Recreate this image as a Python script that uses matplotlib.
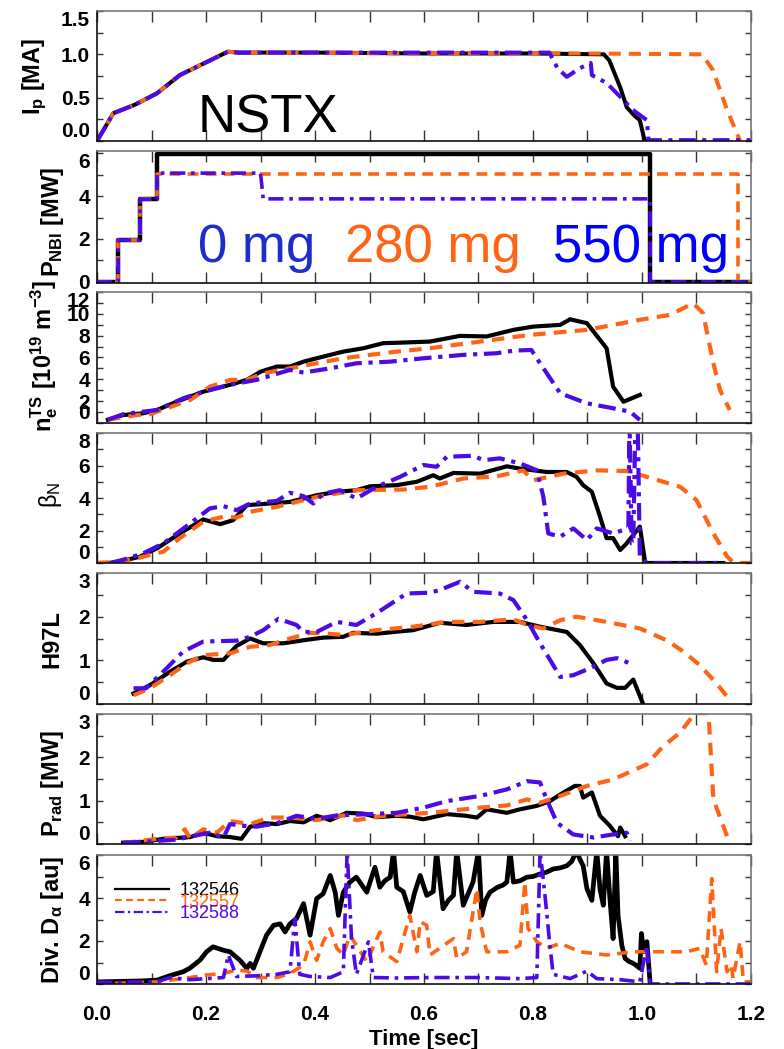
import matplotlib
matplotlib.use("Agg")
import matplotlib.pyplot as plt
from matplotlib.ticker import MultipleLocator

plt.rcParams['font.family'] = ['Liberation Sans', 'DejaVu Sans']
plt.rcParams['mathtext.fontset'] = 'custom'
plt.rcParams['mathtext.rm'] = 'Liberation Sans:bold'
plt.rcParams['mathtext.it'] = 'Liberation Sans:bold'
plt.rcParams['mathtext.bf'] = 'Liberation Sans:bold'
plt.rcParams['mathtext.sf'] = 'Liberation Sans'

# ---------------- data ----------------
shots = ['132546', '132557', '132588']
x_ticks = [0, 0.2, 0.4, 0.6, 0.8, 1.0, 1.2]
x_ticklabels = ['0.0', '0.2', '0.4', '0.6', '0.8', '1.0', '1.2']

# Plasma current [MA]
ip_t_k = [0, 0.03, 0.07, 0.11, 0.152, 0.24, 0.26, 0.4, 0.6, 0.8, 0.93, 0.94, 0.96, 0.972, 0.985, 0.996, 1.005, 1.01]
ip_v_k = [0, 0.32, 0.42, 0.55, 0.76, 1.03, 1.02, 1.02, 1.01, 1.01, 1.0, 0.93, 0.62, 0.39, 0.30, 0.24, 0.0, 0.0]
ip_t_o = [0, 0.03, 0.07, 0.11, 0.152, 0.24, 0.26, 0.6, 0.9, 1.11, 1.13, 1.156, 1.18]
ip_v_o = [0, 0.32, 0.42, 0.55, 0.76, 1.03, 1.02, 1.01, 1.01, 1.0, 0.82, 0.36, 0.0]
ip_t_p = [0, 0.03, 0.07, 0.11, 0.152, 0.24, 0.26, 0.5, 0.7, 0.83, 0.845, 0.862, 0.886, 0.906, 0.908, 0.935, 0.96, 0.983, 1.009, 1.012, 1.2]
ip_v_p = [0, 0.32, 0.42, 0.55, 0.76, 1.03, 1.02, 1.02, 1.02, 1.02, 0.84, 0.74, 0.84, 0.90, 0.76, 0.67, 0.51, 0.36, 0.24, 0.01, 0.01]

# NBI power [MW]
nbi_t_k = [0, 0.039, 0.039, 0.079, 0.079, 0.11, 0.11, 1.015, 1.015, 1.2]
nbi_v_k = [0, 0, 1.95, 1.95, 3.85, 3.85, 5.97, 5.97, 0, 0]
nbi_t_o = [0, 0.039, 0.039, 0.079, 0.079, 0.11, 0.11, 1.176, 1.176, 1.2]
nbi_v_o = [0, 0, 1.95, 1.95, 3.85, 3.85, 5.05, 5.05, 0, 0]
nbi_t_p = [0, 0.039, 0.039, 0.079, 0.079, 0.11, 0.11, 0.30, 0.305, 1.015, 1.015, 1.2]
nbi_v_p = [0, 0, 1.95, 1.95, 3.85, 3.85, 5.07, 5.07, 3.87, 3.87, 0, 0]

# Thomson electron density [1e19 m^-3]
ne_t_k = [0.02, 0.048, 0.085, 0.11, 0.146, 0.195, 0.244, 0.275, 0.30, 0.33, 0.354, 0.379, 0.415, 0.452, 0.489, 0.525,
          0.562, 0.611, 0.666, 0.715, 0.764, 0.80, 0.85, 0.868, 0.899, 0.935, 0.947, 0.966, 0.996]
ne_v_k = [0.3, 0.73, 0.89, 1.19, 1.95, 2.87, 3.5, 3.95, 4.7, 5.17, 5.17, 5.62, 6.08, 6.54, 6.85, 7.31,
          7.37, 7.46, 7.98, 7.93, 8.53, 8.83, 8.99, 9.5, 9.14, 6.85, 3.33, 1.95, 2.57]
ne_t_o = [0.02, 0.073, 0.097, 0.128, 0.171, 0.207, 0.244, 0.275, 0.305, 0.354, 0.403, 0.452, 0.501, 0.55, 0.611,
          0.703, 0.794, 0.899, 0.996, 1.051, 1.094, 1.112, 1.131, 1.143, 1.161]
ne_v_o = [0.3, 0.73, 0.8, 1.35, 2.11, 3.33, 3.95, 3.95, 4.55, 5.01, 5.47, 5.93, 6.24, 6.54, 6.85,
          7.46, 8.07, 8.53, 9.45, 9.9, 10.97, 10.06, 5.47, 3.03, 1.19]
ne_t_p = [0.02, 0.048, 0.085, 0.11, 0.158, 0.195, 0.244, 0.293, 0.354, 0.379, 0.428, 0.476, 0.538, 0.599,
          0.672, 0.733, 0.764, 0.797, 0.813, 0.85, 0.899, 0.947, 0.978, 0.996]
ne_v_p = [0.3, 0.8, 1.04, 1.19, 2.26, 2.87, 3.5, 3.95, 4.86, 4.62, 5.01, 5.47, 5.62, 5.93,
          6.24, 6.39, 6.63, 6.69, 5.47, 2.72, 1.8, 1.35, 1.04, 0.28]

# Normalised beta
bn_t_k = [0, 0.024, 0.048, 0.079, 0.11, 0.152, 0.195, 0.226, 0.25, 0.275, 0.317, 0.354, 0.403, 0.44, 0.476, 0.501,
          0.55, 0.587, 0.617, 0.629, 0.654, 0.703, 0.752, 0.776, 0.825, 0.862, 0.88, 0.892, 0.908, 0.923, 0.935,
          0.947, 0.96, 0.972, 0.996, 1.006, 1.149]
bn_v_k = [0, 0, 0.14, 0.39, 0.9, 1.82, 2.68, 2.39, 2.64, 3.56, 3.66, 3.76, 4.17, 4.38, 4.48, 4.72,
          4.79, 5.0, 5.4, 5.2, 5.54, 5.5, 5.95, 5.81, 5.6, 5.6, 5.3, 4.79, 4.38, 2.85, 1.53,
          1.53, 0.8, 1.21, 2.24, 0, 0]
bn_t_o = [0, 0.048, 0.085, 0.122, 0.152, 0.195, 0.232, 0.256, 0.281, 0.33, 0.403, 0.476, 0.562, 0.611, 0.672,
          0.733, 0.782, 0.80, 0.856, 0.917, 0.972, 1.009, 1.07, 1.10, 1.131, 1.156, 1.168, 1.2]
bn_v_o = [0, 0.1, 0.39, 0.7, 1.53, 2.54, 2.85, 2.8, 3.15, 3.46, 4.07, 4.48, 4.52, 4.69, 5.2,
          5.33, 5.7, 5.09, 5.5, 5.7, 5.66, 5.3, 4.69, 3.87, 1.82, 0.41, 0, 0]
bn_t_p = [0.024, 0.048, 0.085, 0.122, 0.171, 0.207, 0.232, 0.256, 0.281, 0.33, 0.354, 0.379, 0.397, 0.415, 0.446,
          0.476, 0.513, 0.556, 0.599, 0.623, 0.642, 0.69, 0.709, 0.739, 0.776, 0.807, 0.819, 0.828, 0.85, 0.874,
          0.899, 0.917, 0.947, 0.975, 0.977, 0.981, 0.984, 0.988, 0.992, 0.996, 1.009, 1.149]
bn_v_p = [0, 0.2, 0.6, 1.21, 2.44, 3.36, 3.5, 3.25, 3.66, 3.82, 4.32, 4.11, 3.66, 4.27, 4.48,
          3.97, 4.69, 5.3, 6.03, 5.92, 6.54, 6.6, 6.33, 6.44, 6.13, 5.71, 4.07, 1.82, 1.62, 2.13,
          1.41, 2.13, 1.82, 2.13, 9.0, 1.21, 1.21, 9.0, 9.0, 0.4, 0, 0]

# H97L confinement factor
h_t_k = [0.067, 0.097, 0.134, 0.165, 0.195, 0.213, 0.232, 0.256, 0.281, 0.305, 0.342, 0.379, 0.415, 0.452, 0.47,
         0.513, 0.562, 0.58, 0.629, 0.678, 0.727, 0.776, 0.813, 0.862, 0.886, 0.911, 0.935, 0.954, 0.969, 0.984, 1.002]
h_v_k = [0.24, 0.43, 0.74, 0.97, 1.07, 1.01, 1.01, 1.33, 1.5, 1.39, 1.39, 1.46, 1.52, 1.54, 1.63,
         1.61, 1.67, 1.69, 1.86, 1.81, 1.88, 1.88, 1.77, 1.65, 1.35, 0.93, 0.47, 0.37, 0.37, 0.56, 0]
h_t_o = [0.067, 0.097, 0.134, 0.165, 0.195, 0.244, 0.281, 0.317, 0.354, 0.391, 0.415, 0.452, 0.513, 0.58, 0.642,
         0.703, 0.764, 0.789, 0.819, 0.85, 0.88, 0.935, 0.996, 1.045, 1.076, 1.106, 1.137, 1.161]
h_v_o = [0.2, 0.36, 0.66, 0.93, 1.12, 1.16, 1.31, 1.35, 1.5, 1.63, 1.62, 1.58, 1.69, 1.77, 1.88,
         1.88, 1.94, 1.81, 1.73, 1.92, 2.0, 1.88, 1.73, 1.46, 1.2, 0.89, 0.47, 0.09]
h_t_p = [0.067, 0.09, 0.128, 0.158, 0.195, 0.256, 0.281, 0.305, 0.333, 0.366, 0.379, 0.403, 0.44, 0.476, 0.513,
         0.568, 0.611, 0.629, 0.666, 0.69, 0.739, 0.764, 0.789, 0.813, 0.85, 0.874, 0.905, 0.935, 0.954, 0.978]
h_v_p = [0.36, 0.36, 0.82, 1.2, 1.43, 1.45, 1.54, 1.69, 1.95, 1.81, 1.65, 1.65, 1.88, 1.81, 2.08,
         2.53, 2.55, 2.61, 2.8, 2.57, 2.53, 2.38, 1.92, 1.39, 0.62, 0.66, 0.82, 1.01, 1.05, 0.93]

# Radiated power [MW]
pr_t_k = [0.048, 0.085, 0.122, 0.171, 0.195, 0.22, 0.244, 0.265, 0.281, 0.305, 0.33, 0.354, 0.379, 0.403, 0.428,
          0.458, 0.489, 0.513, 0.55, 0.574, 0.599, 0.642, 0.678, 0.697, 0.715, 0.752, 0.776, 0.807, 0.831, 0.856,
          0.877, 0.886, 0.892, 0.908, 0.923, 0.941, 0.956, 0.96, 0.969]
pr_v_k = [0.03, 0.05, 0.12, 0.16, 0.26, 0.18, 0.16, 0.12, 0.4, 0.48, 0.46, 0.53, 0.5, 0.65, 0.55,
          0.72, 0.7, 0.62, 0.65, 0.63, 0.57, 0.69, 0.65, 0.61, 0.8, 0.72, 0.8, 0.88, 0.99, 1.19,
          1.34, 1.34, 1.07, 1.19, 0.65, 0.42, 0.18, 0.38, 0.18]
pr_t_o = [0.048, 0.11, 0.146, 0.161, 0.171, 0.195, 0.22, 0.244, 0.281, 0.317, 0.354, 0.403, 0.452, 0.476, 0.525,
          0.574, 0.611, 0.642, 0.703, 0.752, 0.789, 0.813, 0.85, 0.899, 0.947, 1.009, 1.039, 1.07, 1.097, 1.122,
          1.131, 1.156]
pr_v_o = [0.02, 0.12, 0.15, 0.34, 0.12, 0.34, 0.26, 0.53, 0.46, 0.61, 0.61, 0.55, 0.66, 0.55, 0.65,
          0.69, 0.72, 0.76, 0.84, 0.89, 1.03, 0.95, 1.11, 1.34, 1.49, 1.84, 2.26, 2.57, 3.02, 3.02,
          1.03, 0.18]
pr_t_p = [0.048, 0.097, 0.146, 0.183, 0.207, 0.232, 0.244, 0.269, 0.293, 0.33, 0.366, 0.403, 0.44, 0.501, 0.55,
          0.599, 0.642, 0.703, 0.752, 0.789, 0.813, 0.825, 0.844, 0.874, 0.911, 0.947, 0.972, 0.978]
pr_v_p = [0.03, 0.06, 0.1, 0.2, 0.26, 0.15, 0.46, 0.42, 0.4, 0.48, 0.65, 0.58, 0.66, 0.69, 0.72,
          0.84, 0.99, 1.11, 1.26, 1.45, 1.42, 1.03, 0.49, 0.22, 0.15, 0.22, 0.26, 0.07]

# Divertor D-alpha [au]
da_t_k = [0, 0.079, 0.11, 0.134, 0.158, 0.17, 0.189, 0.201, 0.213, 0.232, 0.244, 0.262, 0.275, 0.281, 0.287,
          0.299, 0.311, 0.324, 0.336, 0.345, 0.354, 0.366, 0.379, 0.391, 0.403, 0.415, 0.428, 0.437, 0.443, 0.452,
          0.464, 0.476, 0.486, 0.495, 0.503, 0.51, 0.519, 0.528, 0.538, 0.544, 0.55, 0.562, 0.574, 0.583, 0.593,
          0.605, 0.617, 0.623, 0.635, 0.645, 0.654, 0.66, 0.672, 0.681, 0.69, 0.70, 0.706, 0.713, 0.721, 0.735,
          0.745, 0.752, 0.758, 0.764, 0.776, 0.789, 0.80, 0.813, 0.825, 0.837, 0.85, 0.862, 0.871, 0.88, 0.886,
          0.892, 0.899, 0.908, 0.917, 0.923, 0.929, 0.935, 0.941, 0.947, 0.952, 0.956, 0.963, 0.969, 0.976, 0.984,
          0.99, 0.996, 0.999, 1.003, 1.009, 1.015]
da_v_k = [0.1, 0.14, 0.18, 0.39, 0.57, 0.73, 1.11, 1.5, 1.73, 1.57, 1.5, 1.11, 0.73, 0.96, 0.73,
          1.5, 2.27, 2.73, 2.8, 2.42, 2.8, 3.04, 3.74, 2.27, 3.97, 4.2, 5.05, 4.27, 3.19, 4.27,
          4.74, 4.97, 4.6, 4.27, 4.9, 5.43, 4.5, 4.8, 4.97, 6.2, 4.5, 4.3, 3.35, 4.27, 5.05,
          4.12, 4.3, 6.2, 3.5, 3.9, 4.12, 6.2, 3.66, 4.2, 4.74, 6.2, 3.19, 3.9, 4.27, 4.5,
          4.6, 4.74, 6.2, 4.74, 4.8, 4.97, 5.0, 5.12, 5.2, 5.35, 5.4, 5.5, 5.7, 6.2, 5.8,
          5.5, 4.43, 3.89, 6.2, 4.4, 3.66, 6.2, 4.0, 2.11, 6.2, 3.2, 1.8, 1.19, 1.05, 0.96,
          0.85, 0.73, 2.35, 1.5, 1.97, 0]
da_t_o = [0, 0.11, 0.171, 0.2, 0.232, 0.256, 0.275, 0.293, 0.33, 0.354, 0.379, 0.391, 0.403, 0.415, 0.428,
          0.44, 0.452, 0.464, 0.476, 0.495, 0.519, 0.525, 0.55, 0.574, 0.587, 0.593, 0.605, 0.611, 0.654, 0.66,
          0.678, 0.697, 0.703, 0.715, 0.752, 0.776, 0.785, 0.791, 0.807, 0.825, 0.85, 0.886, 0.935, 0.984, 1.033,
          1.082, 1.106, 1.118, 1.128, 1.137, 1.145, 1.156, 1.164, 1.167, 1.18, 1.186, 1.2]
da_v_o = [0, 0.1, 0.3, 0.42, 0.49, 0.65, 0.6, 0.3, 0.3, 0.49, 0.88, 1.96, 1.1, 1.96, 2.58,
          1.66, 1.35, 2.27, 1.8, 1.04, 2.42, 1.5, 1.04, 3.19, 1.5, 2.9, 2.73, 1.35, 2.11, 1.19,
          1.5, 4.43, 2.88, 1.5, 1.5, 1.8, 4.74, 2.58, 1.97, 1.66, 1.89, 1.5, 1.35, 1.5, 1.5,
          1.5, 1.66, 0.88, 4.9, 0.57, 2.58, 0.57, 0.9, 0.26, 1.97, 0.1, 0.1]
da_t_p = [0, 0.11, 0.134, 0.17, 0.232, 0.241, 0.256, 0.293, 0.33, 0.354, 0.363, 0.372, 0.391, 0.428, 0.452,
          0.459, 0.467, 0.476, 0.498, 0.507, 0.55, 0.611, 0.7, 0.776, 0.807, 0.813, 0.822, 0.831, 0.837, 0.868,
          0.899, 0.917, 0.96, 0.996, 1.009, 1.015, 1.1, 1.2]
da_v_p = [0.08, 0.1, 0.3, 0.2, 0.3, 1.35, 0.35, 0.38, 0.45, 0.57, 3.04, 0.45, 0.35, 0.3, 0.57,
          6.2, 2.11, 0.45, 1.96, 0.3, 0.28, 0.3, 0.3, 0.25, 0.3, 6.2, 4.12, 1.8, 0.45, 0.25,
          0.6, 0.25, 0.2, 0.1, 1.8, 0.0, 0.0, 0.0]

# ---------------- style ----------------
C_K = 'black'
C_O = '#FF6414'
C_P = '#4B0AE6'
LW = 2.6
DASH_O = (3.0, 2.0)
DASH_P = (4.2, 1.6, 1.0, 1.6)

W, H = 784, 1049
fig = plt.figure(figsize=(W / 100, H / 100), dpi=100)
left_px, right_px = 97, 751
panels_px = [(11, 141), (151, 283), (292, 423), (433, 563), (573, 704), (714, 844), (855, 984)]

axes = []
for top, bot in panels_px:
    ax = fig.add_axes([left_px / W, 1 - bot / H, (right_px - left_px) / W, (bot - top) / H])
    axes.append(ax)


def style(ax, ylim, yticks, ylabs, minor, shift_bottom=True):
    ax.set_xlim(0, 1.2)
    ax.set_ylim(*ylim)
    ax.set_xticks(x_ticks)
    ax.xaxis.set_minor_locator(MultipleLocator(0.1))
    ax.set_yticks(yticks)
    ax.set_yticklabels(ylabs)
    ax.yaxis.set_minor_locator(MultipleLocator(minor))
    ax.tick_params(axis='x', which='both', direction='in', top=True, bottom=True, length=8, width=1.0,
                   labelsize=15, pad=15, color='#333333')
    ax.tick_params(axis='y', which='both', direction='in', left=True, right=True, length=4.5, width=1.0,
                   labelsize=15, pad=5, color='#333333')
    labs = ax.get_yticklabels()
    for lab in labs:
        lab.set_fontweight('bold')
    labs[-1].set_va('top')
    if shift_bottom:
        labs[0].set_va('bottom')
    ax.spines['left'].set_color('#111111')
    ax.spines['bottom'].set_color('#111111')
    ax.spines['top'].set_color('#777777')
    ax.spines['right'].set_color('#777777')
    for s in ax.spines.values():
        s.set_linewidth(1.2)


def three(ax, tk, vk, to, vo, tp, vp, lw=LW, lwk=None, labels=False):
    ax.plot(tk, vk, color=C_K, lw=lwk or lw, solid_joinstyle='round', label=shots[0] if labels else None)
    ax.plot(to, vo, color=C_O, lw=lw, dashes=DASH_O, label=shots[1] if labels else None)
    ax.plot(tp, vp, color=C_P, lw=lw, dashes=DASH_P, label=shots[2] if labels else None)


# Panel 1: Ip
ax = axes[0]
three(ax, ip_t_k, ip_v_k, ip_t_o, ip_v_o, ip_t_p, ip_v_p, lw=2.9)
style(ax, (0, 1.5), [0, 0.5, 1.0, 1.5], ['0.0', '0.5', '1.0', '1.5'], 0.25)
ax.text(0.261, 0.062, 'NSTX', transform=ax.transAxes, fontsize=38, ha='center', va='baseline', color='black')

# Panel 2: NBI
ax = axes[1]
ax.plot(nbi_t_k, nbi_v_k, color=C_K, lw=3.2)
ax.plot(nbi_t_o, nbi_v_o, color=C_O, lw=LW, dashes=DASH_O)
ax.plot(nbi_t_p, nbi_v_p, color=C_P, lw=LW, dashes=DASH_P)
style(ax, (-0.05, 6.1), [0, 2, 4, 6], ['0', '2', '4', '6'], 1, shift_bottom=False)
ax.text((198 - 97) / 654, 0.16, '0 mg', transform=ax.transAxes, fontsize=38, ha='left', va='baseline', color='#1E2ECC')
ax.text((345 - 97) / 654, 0.16, '280 mg', transform=ax.transAxes, fontsize=38, ha='left', va='baseline', color='#FF6414')
ax.text((553 - 97) / 654, 0.16, '550 mg', transform=ax.transAxes, fontsize=38, ha='left', va='baseline', color='#0000FF')

# Panel 3: ne
ax = axes[2]
three(ax, ne_t_k, ne_v_k, ne_t_o, ne_v_o, ne_t_p, ne_v_p, lw=3.0)
style(ax, (0, 12), [0, 2, 4, 6, 8, 10, 12], ['0', '2', '4', '6', '8', '10', '12'], 1)

# Panel 4: beta_N
ax = axes[3]
three(ax, bn_t_k, bn_v_k, bn_t_o, bn_v_o, bn_t_p, bn_v_p, lw=3.0)
style(ax, (0, 8), [0, 2, 4, 6, 8], ['0', '2', '4', '6', '8'], 1)

# Panel 5: H97L
ax = axes[4]
three(ax, h_t_k, h_v_k, h_t_o, h_v_o, h_t_p, h_v_p, lw=3.0)
style(ax, (0, 3), [0, 1, 2, 3], ['0', '1', '2', '3'], 0.5)

# Panel 6: Prad
ax = axes[5]
three(ax, pr_t_k, pr_v_k, pr_t_o, pr_v_o, pr_t_p, pr_v_p, lw=3.0)
style(ax, (0, 3), [0, 1, 2, 3], ['0', '1', '2', '3'], 0.5)

# Panel 7: D-alpha
ax = axes[6]
three(ax, da_t_k, da_v_k, da_t_o, da_v_o, da_t_p, da_v_p, lw=2.6, lwk=3.4, labels=True)
style(ax, (0, 6), [0, 2, 4, 6], ['0', '2', '4', '6'], 1)
leg = ax.legend(loc='upper left', bbox_to_anchor=(0.0, 0.93), frameon=False, fontsize=13,
                handlelength=3.0, handletextpad=0.6, labelspacing=-0.3, borderaxespad=0.6,
                labelcolor='linecolor')
for h in leg.get_lines():
    h.set_linewidth(1.6)
ax.set_xticklabels(x_ticklabels, fontweight='bold')
ax.set_xlabel('Time [sec]', fontsize=16, fontweight='bold', labelpad=4)

for a in axes[:-1]:
    a.tick_params(labelbottom=False)

# y labels
ylabels = [
    (35, 76, r'I$_\mathregular{p}$ [MA]', 'bold'),
    (53, 222, r'P$_\mathregular{NBI}$ [MW]', 'bold'),
    (44, 356, r'n$_\mathregular{e}^\mathregular{TS}$ [10$^\mathregular{19}$ m$^\mathregular{-3}$]', 'bold'),
    (50, 495, r'$\mathsf{\beta_N}$', 'normal'),
    (52, 639, 'H97L', 'bold'),
    (53, 783, r'P$_\mathregular{rad}$ [MW]', 'bold'),
    (53, 920, r'Div. D$_\alpha$ [au]', 'bold'),
]
for x, y, s, w in ylabels:
    fig.text(x / W, 1 - y / H, s, rotation=90, ha='center', va='center', fontsize=17, fontweight=w)

fig.savefig('out.png', dpi=100)
